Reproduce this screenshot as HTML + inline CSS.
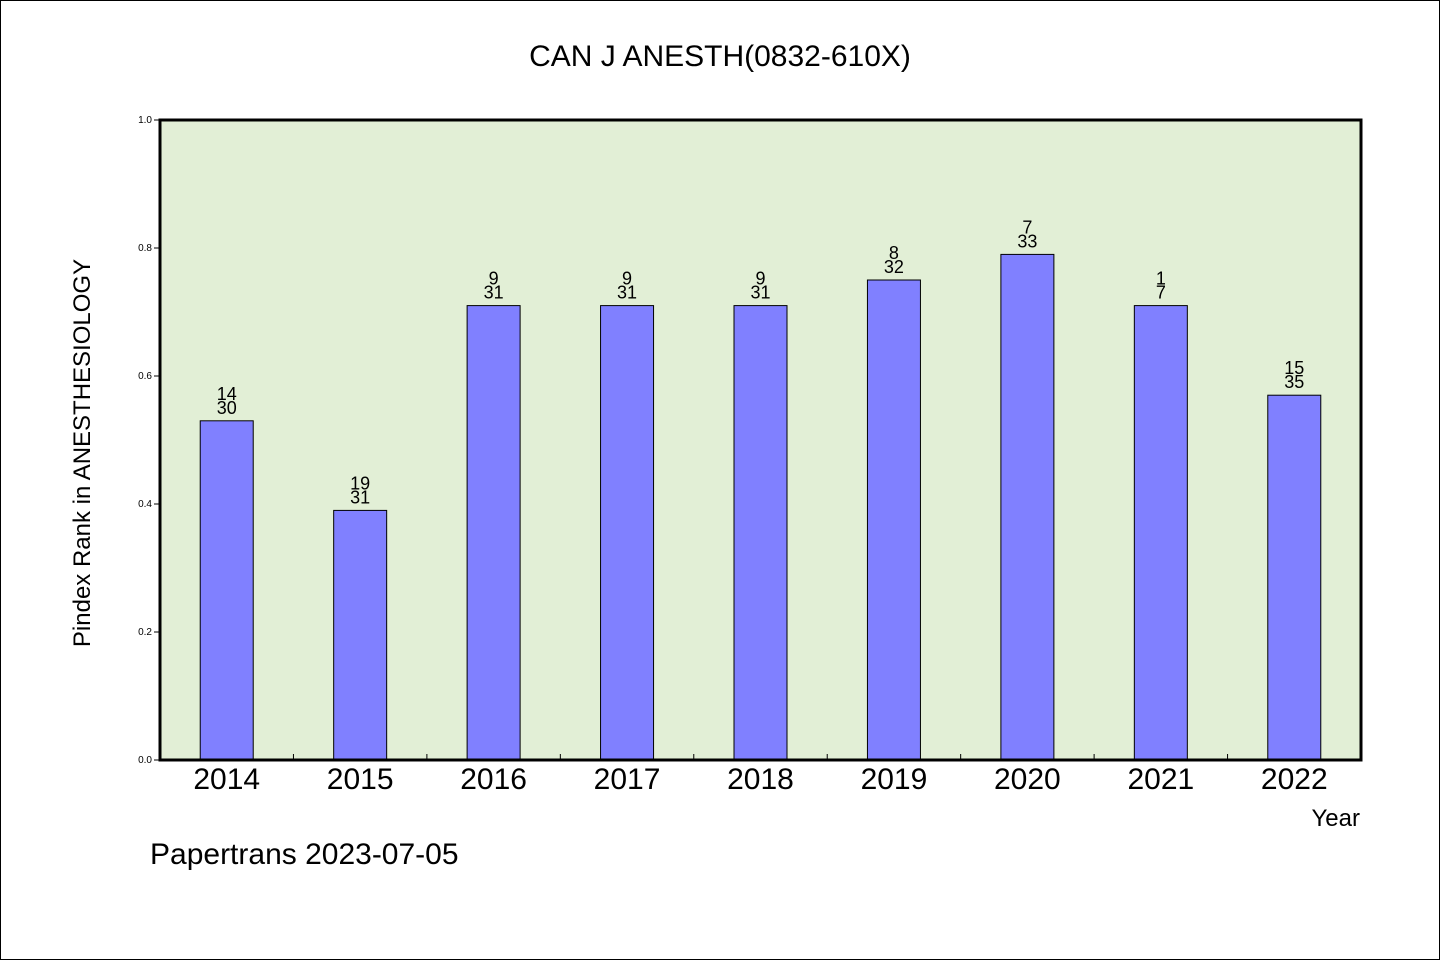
<!DOCTYPE html>
<html><head><meta charset="utf-8"><style>
body{margin:0;background:#fff}
svg text{font-family:"WenQuanYi Zen Hei","Liberation Sans",sans-serif;fill:#000}
</style></head><body>
<svg width="1440" height="960" viewBox="0 0 1440 960">
<rect x="0.5" y="0.5" width="1439" height="959" fill="#fff" stroke="#000"/>
<text x="720" y="66" font-size="30" text-anchor="middle">CAN J ANESTH(0832-610X)</text>
<rect x="160" y="120" width="1201" height="640" fill="#e2efd6"/>
<g id="bars"></g>
<g id="axes"></g>
<rect x="160" y="120" width="1201" height="640" fill="none" stroke="#000" stroke-width="3"/>
<text transform="translate(90,453) rotate(-90)" font-size="24" text-anchor="middle">Pindex Rank in ANESTHESIOLOGY</text>
<text x="1360" y="826" font-size="24" text-anchor="end">Year</text>
<text x="150" y="864" font-size="30">Papertrans 2023-07-05</text>
</svg>
<script>
const years=["2014","2015","2016","2017","2018","2019","2020","2021","2022"];
const values=[0.53,0.39,0.71,0.71,0.71,0.75,0.79,0.71,0.57];
const ranks=["14","19","9","9","9","8","7","1","15"];
const totals=["30","31","31","31","31","32","33","7","35"];
const yTicks=[0,0.2,0.4,0.6,0.8,1.0];
const NS="http://www.w3.org/2000/svg";
const X0=160,X1=1361,Y0=760,Y1=120;
const band=(X1-X0)/years.length;
const xc=i=>X0+band*(i+0.5);
const y=v=>Y0-(Y0-Y1)*v;
function mk(t,a,p){const e=document.createElementNS(NS,t);for(const k in a)e.setAttribute(k,a[k]);p.appendChild(e);return e;}
const bars=document.getElementById('bars'),axes=document.getElementById('axes');
years.forEach((yr,i)=>{
 const w=53;
 const r=mk('rect',{x:xc(i)-w/2,y:y(values[i]),width:w,height:Y0-y(values[i]),fill:'#8080ff',stroke:'#000','stroke-width':1},bars);
 
 
 const t1=mk('text',{x:xc(i),y:y(values[i])-21,'font-size':18,'text-anchor':'middle'},bars);t1.textContent=ranks[i];
 
 
 const t2=mk('text',{x:xc(i),y:y(values[i])-7,'font-size':18,'text-anchor':'middle'},bars);t2.textContent=totals[i];
 
 
 const xl=mk('text',{x:xc(i),y:789,'font-size':30,'text-anchor':'middle'},axes);xl.textContent=yr;
 
 
 if(i>0){const tk=mk('line',{x1:X0+band*i,x2:X0+band*i,y1:Y0,y2:Y0-6,stroke:'#000'},axes);
 
 }
});
yTicks.forEach(v=>{
 const l=mk('line',{x1:154,x2:160,y1:y(v),y2:y(v),stroke:'#000'},axes);
 
 
 const t=mk('text',{x:152,y:y(v)+3,'font-size':10,'text-anchor':'end'},axes);t.textContent=v.toFixed(1);
 
 
});
</script>
</body></html>
